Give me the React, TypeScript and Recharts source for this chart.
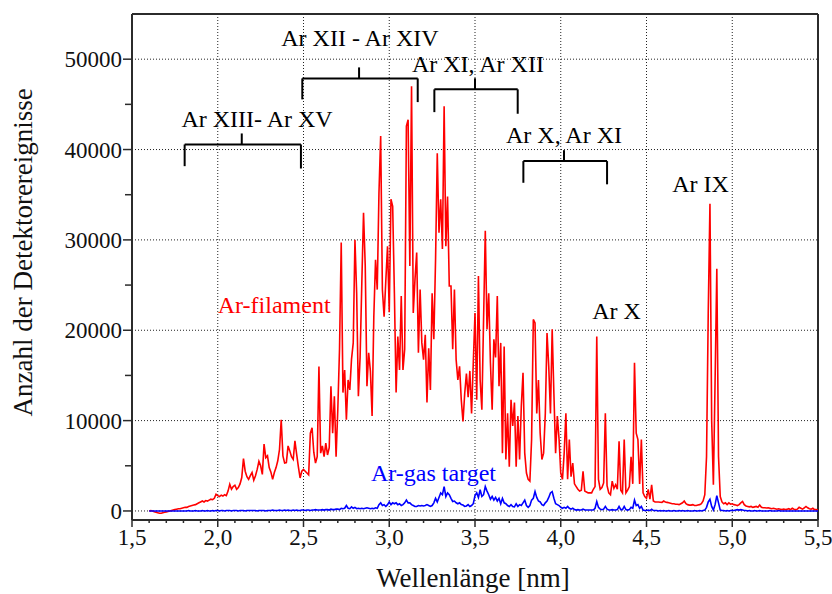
import React from "react"
import {
  LineChart,
  Line,
  XAxis,
  YAxis,
  CartesianGrid,
  ReferenceLine,
  ReferenceDot,
} from "recharts"

// wavelength grid: 1.60 nm ... 5.50 nm, one sample every 0.01 nm
const WL_START = 1.6
const WL_STEP = 0.01

// Ar-filament counts, one row per 0.1 nm (row start in comment)
const filamentCounts = [
  /* 1.60 */ 0, 50, 0, -100, -150, -200, -250, -250, -200, -150,
  /* 1.70 */ -100, -50, 0, 50, 100, 150, 200, 250, 250, 300,
  /* 1.80 */ 350, 400, 400, 500, 550, 600, 650, 700, 800, 900,
  /* 1.90 */ 1000, 1100, 1000, 1150, 1100, 1200, 1300, 1250, 1400, 1850,
  /* 2.00 */ 1700, 1600, 1750, 1650, 1800, 1700, 2200, 2950, 2400, 2700,
  /* 2.10 */ 2850, 2400, 2600, 3000, 3700, 5800, 4400, 3800, 3500, 3900,
  /* 2.20 */ 4250, 3400, 3900, 4600, 5500, 5000, 4050, 7400, 5900, 6100,
  /* 2.30 */ 4800, 4300, 3500, 4250, 4800, 5550, 6800, 10100, 6100, 5300,
  /* 2.40 */ 5350, 7200, 6650, 6000, 5700, 7750, 6300, 4900, 3650, 4400,
  /* 2.50 */ 4600, 4400, 4200, 4000, 8600, 9200, 6500, 5300, 6000, 16000,
  /* 2.60 */ 6400, 7200, 6000, 7500, 6200, 7000, 13800, 8600, 12700, 6000,
  /* 2.70 */ 11200, 17900, 29700, 13100, 15600, 10100, 14500, 13400, 16800, 18600,
  /* 2.80 */ 30000, 24100, 12700, 17000, 25200, 33000, 27100, 13800, 17500, 15500,
  /* 2.90 */ 10500, 21500, 27800, 24500, 35200, 41500, 24500, 21500, 25500, 29300,
  /* 3.00 */ 22000, 34500, 33700, 24100, 13100, 19300, 15600, 23800, 15600, 17900,
  /* 3.10 */ 42600, 43300, 27100, 47000, 21900, 25600, 28600, 17500, 24500, 18600,
  /* 3.20 */ 16750, 19500, 12000, 18000, 13400, 24100, 19000, 27800, 39600, 30800,
  /* 3.30 */ 34500, 29000, 44800, 29300, 34800, 24900, 24900, 17900, 24500, 16750,
  /* 3.40 */ 14500, 16000, 12300, 9900, 13000, 15200, 12600, 15500, 10800, 16400,
  /* 3.50 */ 21900, 12300, 26000, 14500, 11200, 21200, 31000, 20100, 24100, 16400,
  /* 3.60 */ 11200, 19000, 17000, 23800, 13800, 18600, 6400, 18200, 5700, 10800,
  /* 3.70 */ 4900, 12300, 9400, 12000, 4900, 10500, 5700, 11600, 15300, 6400,
  /* 3.80 */ 4200, 3500, 3300, 7900, 21200, 20800, 10800, 14500, 8600, 5700,
  /* 3.90 */ 6400, 10800, 19700, 16000, 10800, 20100, 13000, 6400, 10500, 8000,
  /* 4.00 */ 4200, 3500, 6400, 10800, 3500, 7900, 3800, 5300, 3000, 2700,
  /* 4.10 */ 2400, 2200, 2300, 4400, 2200, 2100, 2000, 2000, 2000, 2400,
  /* 4.20 */ 2700, 19300, 3500, 2400, 2600, 3100, 10800, 2800, 2000, 1800,
  /* 4.30 */ 3300, 2500, 2900, 2400, 7700, 2300, 2000, 7900, 2000, 2300,
  /* 4.40 */ 2700, 6000, 3000, 16400, 8600, 7900, 3000, 7900, 2000, 1600,
  /* 4.50 */ 1400, 2400, 1300, 2900, 1100, 1000, 1000, 1000, 960, 950,
  /* 4.60 */ 1100, 1000, 950, 900, 850, 800, 800, 750, 750, 700,
  /* 4.70 */ 800, 900, 1100, 800, 700, 650, 650, 700, 600, 600,
  /* 4.80 */ 650, 700, 800, 1100, 1800, 6000, 21900, 34000, 10000, 2900,
  /* 4.90 */ 14500, 26800, 6000, 1600, 1000, 800, 900, 700, 900, 750,
  /* 5.00 */ 800, 700, 650, 600, 700, 900, 1050, 700, 550, 500,
  /* 5.10 */ 450, 500, 400, 450, 500, 400, 650, 400, 350, 350,
  /* 5.20 */ 330, 350, 300, 250, 300, 250, 200, 250, 200, 150,
  /* 5.30 */ 200, 150, 200, 250, 150, 300, 200, 150, 200, 400,
  /* 5.40 */ 300, 200, 350, 500, 350, 250, 200, 300, 150, 150,
  /* 5.50 */ 100,
]

// Ar-gas target counts, same grid
const gasCounts = [
  /* 1.60 */ 0, 0, 0, 0, 0, 0, 0, 0, 0, 0,
  /* 1.70 */ 0, 0, 0, 0, 0, 0, 0, 0, 0, 0,
  /* 1.80 */ 0, 0, 0, 50, 0, 0, 0, 50, 0, 0,
  /* 1.90 */ 0, 50, 0, 0, 50, 0, 0, 50, 0, 50,
  /* 2.00 */ 50, 0, 50, 50, 0, 50, 50, 50, 0, 50,
  /* 2.10 */ 50, 50, 0, 50, 50, 50, 0, 50, 50, 50,
  /* 2.20 */ 50, 50, 50, 0, 50, 50, 50, 50, 0, 50,
  /* 2.30 */ 50, 50, 100, 50, 50, 50, 100, 50, 50, 100,
  /* 2.40 */ 50, 100, 50, 50, 100, 50, 100, 50, 50, 100,
  /* 2.50 */ 100, 50, 100, 100, 50, 100, 100, 150, 100, 100,
  /* 2.60 */ 100, 150, 100, 150, 150, 100, 200, 150, 150, 200,
  /* 2.70 */ 200, 150, 300, 250, 300, 600, 300, 250, 450, 300,
  /* 2.80 */ 400, 250, 300, 250, 300, 250, 300, 350, 300, 250,
  /* 2.90 */ 300, 250, 350, 300, 700, 900, 600, 700, 500, 700,
  /* 3.00 */ 1000, 700, 900, 800, 900, 700, 800, 600, 700, 900,
  /* 3.10 */ 1200, 900, 900, 700, 600, 500, 500, 600, 550, 600,
  /* 3.20 */ 550, 600, 700, 600, 500, 600, 900, 1400, 1000, 1500,
  /* 3.30 */ 2000, 1800, 2700, 1600, 2000, 1800, 1400, 1050, 1100, 900,
  /* 3.40 */ 800, 900, 700, 650, 500, 550, 700, 500, 600, 800,
  /* 3.50 */ 1700, 2000, 1500, 2350, 1600, 1800, 2700, 2200, 1800, 1300,
  /* 3.60 */ 1600, 1200, 1500, 1100, 1400, 800, 1400, 900, 800, 600,
  /* 3.70 */ 500, 700, 500, 450, 800, 500, 700, 600, 900, 1200,
  /* 3.80 */ 600, 400, 600, 1200, 1400, 2150, 1500, 1100, 1000, 700,
  /* 3.90 */ 600, 900, 1100, 1500, 2000, 2150, 1400, 800, 700, 600,
  /* 4.00 */ 400, 300, 400, 300, 500, 300, 200, 300, 150, 100,
  /* 4.10 */ 150, 100, 100, 200, 100, 100, 100, 100, 100, 100,
  /* 4.20 */ 300, 1050, 400, 200, 150, 200, 500, 200, 100, 100,
  /* 4.30 */ 150, 100, 100, 150, 500, 150, 150, 500, 150, 100,
  /* 4.40 */ 150, 400, 300, 1200, 600, 700, 300, 500, 100, 50,
  /* 4.50 */ 50, 100, 50, 200, 50, 50, 50, 0, 50, 0,
  /* 4.60 */ 50, 0, 0, 50, 0, 0, 50, 0, 0, 50,
  /* 4.70 */ 0, 50, 0, 0, 50, 0, 0, 0, 50, 0,
  /* 4.80 */ 0, 50, 0, 50, 100, 400, 1000, 1300, 500, 100,
  /* 4.90 */ 700, 1700, 900, 100, 50, 50, 0, 50, 0, 50,
  /* 5.00 */ 50, 50, 100, 150, 100, 150, 100, 50, 50, 0,
  /* 5.10 */ 50, 0, 0, 50, 0, 0, 50, 0, 0, 0,
  /* 5.20 */ 0, 0, 50, 0, 0, 0, 0, 50, 0, 0,
  /* 5.30 */ 0, 0, 0, 0, 0, 0, 0, 0, 0, 0,
  /* 5.40 */ 0, 0, 0, 0, 0, 0, 0, 0, 0, 0,
  /* 5.50 */ 0,
]

const majorX = [1.5, 2.0, 2.5, 3.0, 3.5, 4.0, 4.5, 5.0, 5.5]
const minorX = [
  1.6, 1.7, 1.8, 1.9, 2.1, 2.2, 2.3, 2.4, 2.6, 2.7, 2.8, 2.9, 3.1, 3.2, 3.3, 3.4,
  3.6, 3.7, 3.8, 3.9, 4.1, 4.2, 4.3, 4.4, 4.6, 4.7, 4.8, 4.9, 5.1, 5.2, 5.3, 5.4,
]
const majorY = [0, 10000, 20000, 30000, 40000, 50000]
const minorY = [5000, 15000, 25000, 35000, 45000]

// ion-stage brackets (wavelength range, bar height, leg ends, middle tick)
const brackets = [
  { from: 1.807, to: 2.485, mid: 2.14, bar: 40560, legL: 38160, legR: 37900, top: 41780 },
  { from: 2.493, to: 3.166, mid: 2.824, bar: 47870, legL: 45550, legR: 45250, top: 49090 },
  { from: 3.263, to: 3.749, mid: 3.5, bar: 46660, legL: 44140, legR: 43960, top: 47880 },
  { from: 3.782, to: 4.27, mid: 4.019, bar: 38720, legL: 36320, legR: 36150, top: 39930 },
]

const annotations = [
  { text: "Ar XII - Ar XIV", x: 2.829, y: 51420, color: "#000" },
  { text: "Ar XIII- Ar XV", x: 2.229, y: 42480, color: "#000" },
  { text: "Ar XI, Ar XII", x: 3.517, y: 48570, color: "#000" },
  { text: "Ar X, Ar XI", x: 4.019, y: 40680, color: "#000" },
  { text: "Ar IX", x: 4.815, y: 35280, color: "#000" },
  { text: "Ar X", x: 4.325, y: 21290, color: "#000" },
  { text: "Ar-filament", x: 2.329, y: 21930, color: "#ff0000" },
  { text: "Ar-gas target", x: 3.258, y: 3360, color: "#0000ff" },
]

const data = filamentCounts.map((v, i) => ({
  wl: +(WL_START + i * WL_STEP).toFixed(2),
  filament: v,
  gas: gasCounts[i],
}))

const FONT = "Liberation Serif"
const AXIS = "#2b2b2b"
const TICK_FONT = 23

const isMajor = (v: number, list: number[]) => list.some((m) => Math.abs(m - v) < 1e-6)

const renderXTick = (props: any) => {
  const { x, y, payload } = props
  if (!isMajor(payload.value, majorX)) {
    return <line key={`xt-${payload.value}`} x1={x} x2={x} y1={y} y2={y + 3} stroke={AXIS} strokeWidth={1.5} />
  }
  return (
    <g key={`xt-${payload.value}`}>
      <line x1={x} x2={x} y1={y} y2={y + 7} stroke={AXIS} strokeWidth={1.5} />
      <text x={x} y={y + 25} textAnchor="middle" style={{ fontSize: TICK_FONT, fontFamily: FONT }} fill="#111">
        {payload.value.toFixed(1).replace(".", ",")}
      </text>
    </g>
  )
}

const renderYTick = (props: any) => {
  const { x, y, payload } = props
  if (!isMajor(payload.value, majorY)) {
    return <line key={`yt-${payload.value}`} x1={x - 7} x2={x} y1={y} y2={y} stroke={AXIS} strokeWidth={1.5} />
  }
  return (
    <g key={`yt-${payload.value}`}>
      <line x1={x - 9} x2={x} y1={y} y2={y} stroke={AXIS} strokeWidth={1.5} />
      <text x={x - 10} y={y + 8} textAnchor="end" style={{ fontSize: TICK_FONT, fontFamily: FONT }} fill="#111">
        {payload.value}
      </text>
    </g>
  )
}

export default function App() {
  const bracketSegments = brackets.flatMap((b) => [
    [{ x: b.from, y: b.bar }, { x: b.to, y: b.bar }],
    [{ x: b.from, y: b.bar }, { x: b.from, y: b.legL }],
    [{ x: b.to, y: b.bar }, { x: b.to, y: b.legR }],
    [{ x: b.mid, y: b.bar }, { x: b.mid, y: b.top }],
  ])

  return (
    <div style={{ position: "absolute", left: 0, top: 0, width: 832, height: 594, background: "#fff", fontFamily: FONT }}>
      <LineChart width={832} height={594} data={data} margin={{ top: 14, right: 14, bottom: 34, left: 52 }}>
        <CartesianGrid
          stroke="#222"
          strokeDasharray="1 2"
          horizontalValues={majorY}
          verticalValues={majorX}
        />
        <XAxis
          dataKey="wl"
          type="number"
          domain={[1.5, 5.5]}
          ticks={[...majorX, ...minorX].sort((a, b) => a - b)}
          interval={0}
          tick={renderXTick}
          tickLine={false}
          tickSize={0}
          tickMargin={0}
          height={40}
          allowDataOverflow
          axisLine={{ stroke: AXIS, strokeWidth: 2 }}
          label={{
            content: ({ viewBox }: any) => (
              <text
                x={viewBox.x + viewBox.width / 2 - 2}
                y={viewBox.y + 67}
                textAnchor="middle"
                style={{ fontSize: 27, fontFamily: FONT }}
                fill="#111"
              >
                Wellenlänge [nm]
              </text>
            ),
          }}
        />
        <YAxis
          type="number"
          domain={[-1000, 55000]}
          ticks={[...majorY, ...minorY].sort((a, b) => a - b)}
          interval={0}
          tick={renderYTick}
          tickLine={false}
          tickSize={0}
          tickMargin={0}
          width={80}
          allowDataOverflow
          axisLine={{ stroke: AXIS, strokeWidth: 2 }}
          label={{
            content: ({ viewBox }: any) => {
              const cx = viewBox.x - 20
              const cy = viewBox.y + viewBox.height * 0.471
              return (
                <text
                  x={cx}
                  y={cy}
                  transform={`rotate(-90, ${cx}, ${cy})`}
                  textAnchor="middle"
                  style={{ fontSize: 27, fontFamily: FONT }}
                  fill="#111"
                >
                  Anzahl der Detektorereignisse
                </text>
              )
            },
          }}
        />
        <ReferenceLine y={55000} stroke={AXIS} strokeWidth={2} />
        <ReferenceLine x={5.5} stroke={AXIS} strokeWidth={2} />
        <Line
          type="linear"
          dataKey="filament"
          stroke="#ff0000"
          strokeWidth={1.6}
          dot={false}
          isAnimationActive={false}
        />
        <Line
          type="linear"
          dataKey="gas"
          stroke="#0000ff"
          strokeWidth={1.6}
          dot={false}
          isAnimationActive={false}
        />
        {bracketSegments.map((seg, i) => (
          <ReferenceLine key={`br-${i}`} segment={seg} stroke="#000" strokeWidth={2} />
        ))}
        {annotations.map((a) => (
          <ReferenceDot
            key={a.text}
            x={a.x}
            y={a.y}
            r={0}
            fill="none"
            stroke="none"
            label={{
              content: ({ viewBox }: any) => (
                <text
                  x={viewBox.x + (viewBox.width || 0) / 2}
                  y={viewBox.y + (viewBox.height || 0) / 2}
                  textAnchor="middle"
                  style={{ fontSize: 24, fontFamily: FONT }}
                  fill={a.color}
                >
                  {a.text}
                </text>
              ),
            }}
          />
        ))}
      </LineChart>
    </div>
  )
}
